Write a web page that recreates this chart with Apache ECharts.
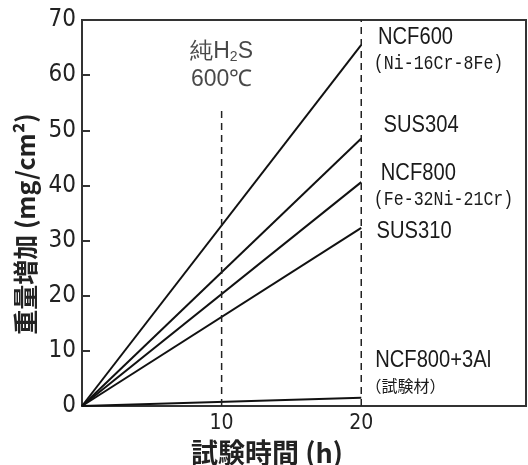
<!DOCTYPE html>
<html>
<head>
<meta charset="utf-8">
<script src="https://cdn.jsdelivr.net/npm/echarts@6/dist/echarts.min.js"></script>
<style>html,body{margin:0;padding:0;background:#fff}#c{width:528px;height:465px}</style>
</head>
<body>
<div id="c"></div>
<script>
// ---- data ----
var seriesNames = ['NCF600', 'SUS304', 'NCF800', 'SUS310', 'NCF800+3Al'];
var timeH = [0, 20];
var gainNCF600 = [0, 65.5];
var gainSUS304 = [0, 48.5];
var gainNCF800 = [0, 40.6];
var gainSUS310 = [0, 32.3];
var gainNCF800Al = [0, 1.5];
var xTickLabels = ['10', '20'];
var yTickLabels = ['0', '10', '20', '30', '40', '50', '60', '70'];
var guideAt10X = [10, 10];
var guideAt10Y = [0, 54];
var guideAt20X = [20, 20];
var guideAt20Y = [0, 70];
// annotations (data coordinates)
var annoText = ['NCF600', '(Ni-16Cr-8Fe)', 'SUS304', 'NCF800', '(Fe-32Ni-21Cr)', 'SUS310', 'NCF800+3Al', '（試験材）'];
var annoX = [21.2, 20.9, 21.6, 21.4, 20.9, 21.1, 21.0, 20.3];
var annoY = [66.8, 62.1, 50.8, 42.2, 37.4, 31.6, 8.2, 3.6];
var annoKind = ['big', 'small', 'big', 'big', 'small', 'big', 'big', 'cjk'];

var allGains = [gainNCF600, gainSUS304, gainNCF800, gainSUS310, gainNCF800Al];

function pairs(xs, ys) { return xs.map(function (x, i) { return [x, ys[i]]; }); }

var narrow = '"Liberation Sans Narrow", "Arial Narrow", "DejaVu Sans Condensed", "Liberation Sans", sans-serif';
var series = [];
allGains.forEach(function (g, i) {
  series.push({
    name: seriesNames[i], type: 'line', data: pairs(timeH, g),
    symbol: 'none', lineStyle: { color: '#111', width: 2 }, silent: true, z: 3
  });
});
series.push({ type: 'line', data: pairs(guideAt10X, guideAt10Y), symbol: 'none',
  lineStyle: { color: '#222', width: 1.5, type: [7, 5] }, silent: true });
series.push({ type: 'line', data: pairs(guideAt20X, guideAt20Y), symbol: 'none',
  lineStyle: { color: '#222', width: 1.5, type: [7, 5] }, silent: true });

series.push({
  type: 'scatter', data: [{ value: [10, 61.7] }], symbolSize: 0, silent: true,
  label: { show: true, position: 'inside', align: 'center', verticalAlign: 'middle',
    formatter: '{a|純H}{s|2}{a|S}\n{a|600℃}', lineHeight: 28,
    rich: {
      a: { fontFamily: '"Liberation Sans", Arial, sans-serif', fontSize: 23, color: '#1a1a1a', lineHeight: 28 },
      s: { fontFamily: '"Liberation Sans", Arial, sans-serif', fontSize: 14, color: '#1a1a1a', padding: [10, 0, 0, 0], lineHeight: 28 }
    } }
});

var chart = echarts.init(document.getElementById('c'), null, { renderer: 'canvas' });
chart.setOption({
  animation: false,
  backgroundColor: '#fff',
  grid: { left: 82, top: 20, right: 2, bottom: 59, containLabel: false, outerBoundsMode: 'none',
    show: true, borderColor: '#333', borderWidth: 2, backgroundColor: 'transparent' },
  xAxis: {
    type: 'value', min: 0, max: 31.8, interval: 10,
    axisLine: { show: true, lineStyle: { color: '#333', width: 2 } },
    axisTick: { show: false }, splitLine: { show: false },
    axisLabel: { fontFamily: narrow, fontSize: 21, color: '#222', margin: 7,
      formatter: function (v) { return xTickLabels.indexOf(String(v)) >= 0 ? String(v) : ''; } },
    name: '試験時間 (h)', nameLocation: 'middle', nameGap: 28,
    nameTextStyle: { fontFamily: '"Noto Sans CJK JP", sans-serif', fontWeight: 'bold', fontSize: 27, color: '#222', padding: [0, 74, 0, 0] }
  },
  yAxis: {
    type: 'value', min: 0, max: 70, interval: 10,
    axisLine: { show: true, lineStyle: { color: '#333', width: 2 } },
    axisTick: { show: true, inside: true, length: 8, lineStyle: { color: '#333', width: 2 } },
    splitLine: { show: false },
    axisLabel: { fontFamily: narrow, fontSize: 24, color: '#222', margin: 6,
      formatter: function (v) { return yTickLabels.indexOf(String(v)) >= 0 ? String(v) : ''; } },
    name: '重量増加 (mg/cm²)', nameLocation: 'middle', nameGap: 40, nameRotate: 90,
    nameTextStyle: { fontFamily: '"Noto Sans CJK JP", sans-serif', fontWeight: 'bold', fontSize: 25, color: '#222', padding: [0, 22, 0, 0] }
  },
  series: series
});

// place annotation texts at their data coordinates (condensed via scaleX)
var fonts = {
  big: { font: 'normal 24px "Liberation Sans", Arial, sans-serif', scaleX: 0.84 },
  small: { font: 'normal 20px "Liberation Mono", "DejaVu Sans Mono", monospace', scaleX: 0.83 },
  cjk: { font: 'normal 16px "Noto Sans CJK JP", sans-serif', scaleX: 1 }
};
var elements = annoText.map(function (t, i) {
  var p = chart.convertToPixel({ gridIndex: 0 }, [annoX[i], annoY[i]]);
  var f = fonts[annoKind[i]];
  return { type: 'text', x: p[0], y: p[1], scaleX: f.scaleX, silent: true, z: 10,
    style: { text: t, font: f.font, fill: '#1a1a1a', textAlign: 'left', textVerticalAlign: 'middle' } };
});
chart.setOption({ graphic: { elements: elements } });
</script>
</body>
</html>
